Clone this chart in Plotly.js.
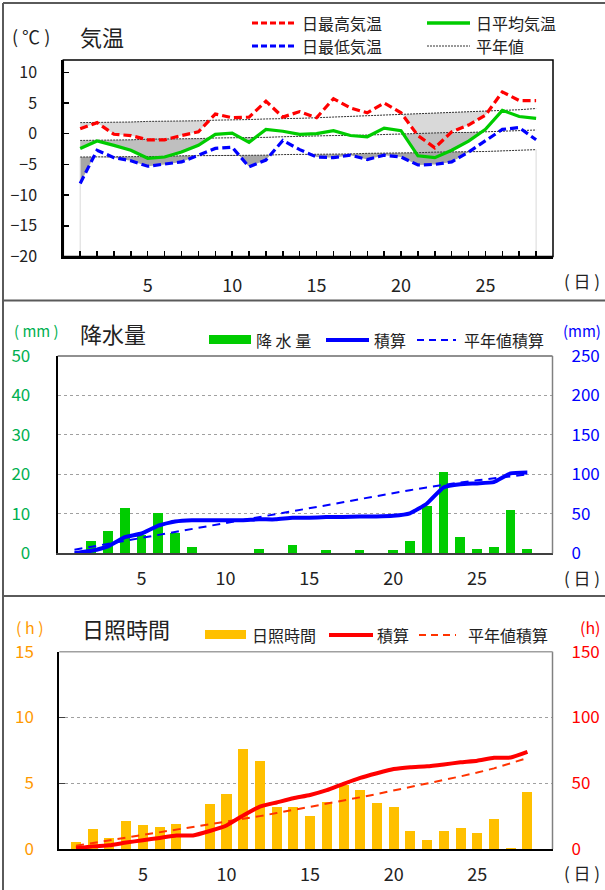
<!DOCTYPE html>
<html><head><meta charset="utf-8">
<script src="https://cdn.plot.ly/plotly-3.0.1.min.js"></script>
<style>html,body{margin:0;padding:0;background:#fff;}#chart{width:605px;height:890px;}</style>
</head><body><div id="chart"></div>
<script>
// ---------- data ----------
const days = [1,2,3,4,5,6,7,8,9,10,11,12,13,14,15,16,17,18,19,20,21,22,23,24,25,26,27,28];
const tMax  = [0.8,1.8,-0.1,-0.3,-1.0,-1.0,-0.3,0.3,3.2,2.6,2.7,5.3,2.7,3.6,2.6,5.7,4.2,3.4,5.0,3.4,-0.3,-2.3,0.3,1.4,3.0,6.8,5.4,5.4];
const tMean = [-2.4,-1.2,-1.9,-2.7,-4.0,-3.8,-3.0,-1.9,-0.1,0.1,-1.4,0.7,0.4,-0.1,0.0,0.5,-0.3,-0.5,0.9,0.5,-3.6,-3.9,-2.7,-1.2,0.7,3.8,2.8,2.5];
const tMin  = [-8.1,-2.7,-3.9,-4.4,-5.3,-5.0,-4.6,-3.5,-2.4,-2.2,-5.4,-4.3,-1.1,-2.6,-3.8,-3.9,-3.5,-4.2,-3.5,-3.8,-5.1,-5.0,-4.6,-3.0,-1.1,0.7,1.0,-1.0];
const nMax  = [1.8,1.8,1.9,1.9,2.0,2.0,2.1,2.1,2.2,2.2,2.3,2.4,2.4,2.5,2.6,2.7,2.8,2.9,3.0,3.2,3.3,3.4,3.5,3.6,3.7,3.8,3.9,4.1];
const nMean = [-1.1,-1.1,-1.0,-1.0,-0.9,-0.9,-0.8,-0.8,-0.7,-0.7,-0.6,-0.6,-0.5,-0.4,-0.4,-0.3,-0.3,-0.2,-0.1,-0.1,0.0,0.1,0.2,0.2,0.3,0.4,0.5,0.6];
const nMin  = [-3.8,-3.8,-3.8,-3.7,-3.7,-3.7,-3.6,-3.6,-3.6,-3.5,-3.5,-3.5,-3.4,-3.4,-3.4,-3.3,-3.3,-3.2,-3.2,-3.1,-3.1,-3.0,-3.0,-2.9,-2.9,-2.8,-2.7,-2.6];

const precip     = [0,3.2,5.7,11.6,4.6,10.1,5.1,1.6,0,0,0,1.1,0,2.1,0,0.8,0,0.8,0,0.8,3.2,12.1,20.6,4.1,1.1,1.5,11.1,1.1];
const precipCum  = [0,3.2,8.9,20.5,25.1,35.2,40.3,41.9,41.9,41.9,41.9,43.0,43.0,45.1,45.1,45.9,45.9,46.7,46.7,47.5,50.7,62.8,83.4,87.5,88.6,90.1,101.2,102.3];
const precipNorm = [4.5,8.2,11.9,15.6,19.3,23.0,26.7,30.4,34.1,37.8,41.5,45.2,48.9,52.6,56.6,60.6,64.6,68.6,72.6,76.5,80.0,83.5,87.0,89.8,92.5,95.2,97.6,100.0];

const sun     = [0.5,1.5,0.8,2.1,1.8,1.7,1.9,0,3.4,4.2,7.6,6.7,3.2,3.2,2.5,3.6,4.9,4.5,3.5,3.2,1.4,0.7,1.4,1.6,1.2,2.3,0.1,4.3];
const sunCum  = [0.5,2.0,2.8,4.9,6.7,8.4,10.3,10.3,13.7,17.9,25.5,32.2,35.4,38.6,41.1,44.7,49.6,54.1,57.6,60.8,62.2,62.9,64.3,65.9,67.1,69.4,69.5,73.8];
const sunNorm = [2.5,4.5,6.5,8.5,10.5,12.5,14.5,16.5,18.5,20.5,22.7,25.0,27.3,29.6,32.0,34.4,36.8,39.3,41.8,44.4,47.0,49.7,52.4,55.2,58.1,61.3,65.2,69.2];

const tempTicks = [-20,-15,-10,-5,0,5,10];
const precipTicksL = [0,10,20,30,40,50];
const precipTicksR = [0,50,100,150,200,250];
const sunTicksL = [0,5,10,15];
const sunTicksR = [0,50,100,150];
const dayLabels = days.map(d => d % 5 === 0 ? String(d) : '');
const dayLabelVals = [5,10,15,20,25];

// ---------- helpers ----------
const W = 605, H = 890;
const px = X => X / W;
const py = Y => 1 - Y / H;
const FONT = '"Noto Sans CJK JP", "Noto Sans", sans-serif';
const TXT = '#222';
const tempRange = [-20, 12];

function shade(act, norm, color) {
  const xs = [], up = [], lo = [];
  for (let i = 0; i < days.length; i++) {
    xs.push(days[i]); up.push(norm[i]); lo.push(Math.min(act[i], norm[i]));
    if (i < days.length - 1) {
      const d0 = act[i] - norm[i], d1 = act[i+1] - norm[i+1];
      if (d0 * d1 < 0) {
        const t = d0 / (d0 - d1);
        const xi = days[i] + t * (days[i+1] - days[i]);
        const yi = norm[i] + t * (norm[i+1] - norm[i]);
        xs.push(xi); up.push(yi); lo.push(yi);
      }
    }
  }
  return [
    {x: xs, y: up, xaxis: 'x', yaxis: 'y', mode: 'lines', line: {width: 0, color: color}, hoverinfo: 'skip'},
    {x: xs, y: lo, xaxis: 'x', yaxis: 'y', mode: 'lines', line: {width: 0, color: color}, fill: 'tonexty', fillcolor: color, hoverinfo: 'skip'}
  ];
}

const traces = [];
traces.push(...shade(tMax, nMax, '#d9d9d9'));
traces.push(...shade(tMean, nMean, '#bfbfbf'));
traces.push(...shade(tMin, nMin, '#a6a6a6'));
// area edge lines at first and last day
traces.push({x: [days[0], days[0], null, days[27], days[27]], y: [tempRange[0], nMin[0], null, tempRange[0], nMin[27]],
  xaxis: 'x', yaxis: 'y', mode: 'lines', line: {color: '#d9d9d9', width: 1}, hoverinfo: 'skip'});
[nMax, nMean, nMin].forEach(n => traces.push({x: days, y: n, xaxis: 'x', yaxis: 'y', mode: 'lines',
  line: {color: '#333', width: 1, dash: '2px,1px'}}));
traces.push({x: days, y: tMean, xaxis: 'x', yaxis: 'y', mode: 'lines', line: {color: '#00cc00', width: 3.2}});
traces.push({x: days, y: tMax, xaxis: 'x', yaxis: 'y', mode: 'lines', line: {color: '#ff0000', width: 3.2, dash: '8px,4px'}});
traces.push({x: days, y: tMin, xaxis: 'x', yaxis: 'y', mode: 'lines', line: {color: '#0000ff', width: 3.2, dash: '8px,4px'}});

// precipitation
traces.push({type: 'bar', x: days, y: precip, xaxis: 'x2', yaxis: 'y2', width: 0.58, marker: {color: '#00cc00'}});
traces.push({x: days, y: precipNorm, xaxis: 'x2', yaxis: 'y3', mode: 'lines', line: {color: '#0000ff', width: 2, dash: '8px,6px'}});
traces.push({x: days, y: precipCum, xaxis: 'x2', yaxis: 'y3', mode: 'lines', line: {color: '#0000ff', width: 4, shape: 'spline', smoothing: 0.4}});

// sunshine
traces.push({type: 'bar', x: days, y: sun, xaxis: 'x3', yaxis: 'y4', width: 0.6, marker: {color: '#ffc000'}});
traces.push({x: days, y: sunNorm, xaxis: 'x3', yaxis: 'y5', mode: 'lines', line: {color: '#ff3300', width: 2, dash: '8px,6px'}});
traces.push({x: days, y: sunCum, xaxis: 'x3', yaxis: 'y5', mode: 'lines', line: {color: '#ff0000', width: 4, shape: 'spline', smoothing: 0.4}});

// ---------- layout ----------
const xBase = {showgrid: false, zeroline: false, showline: true, linecolor: '#000', linewidth: 2,
  tickfont: {family: FONT, size: 18, color: TXT}, fixedrange: true};
const layout = {
  width: W, height: H, margin: {l: 0, r: 0, t: 0, b: 0}, showlegend: false,
  paper_bgcolor: '#fff', plot_bgcolor: 'rgba(0,0,0,0)', bargap: 0,
  font: {family: FONT, color: TXT},
  xaxis: Object.assign({}, xBase, {domain: [px(63.3), px(553)], anchor: 'y', range: [0, 29],
    tickmode: 'array', tickvals: days, ticktext: dayLabels, ticks: 'inside', ticklen: 6, tickwidth: 1.5, tickcolor: '#000',
    ticklabelstandoff: 12}),
  yaxis: {domain: [py(256.5), py(60)], anchor: 'x', range: tempRange, tickmode: 'array', tickvals: tempTicks,
    ticks: 'inside', ticklen: 6, tickwidth: 1.5, tickcolor: '#000', showline: true, linecolor: '#000', linewidth: 2,
    showgrid: false, zeroline: false, tickfont: {family: FONT, size: 16, color: TXT}, ticklabelstandoff: 21},
  xaxis2: Object.assign({}, xBase, {domain: [px(57.7), px(552.5)], anchor: 'y2', range: [0, 29.5],
    tickmode: 'array', tickvals: dayLabelVals, ticks: '', linecolor: '#404040', ticklabelstandoff: 8}),
  yaxis2: {domain: [py(553.3), py(356)], anchor: 'x2', range: [0, 50], tickmode: 'array', tickvals: precipTicksL,
    showline: true, linecolor: '#000', linewidth: 2, zeroline: false, showgrid: true, gridcolor: '#a0a0a0', griddash: 'dot', gridwidth: 1,
    tickfont: {family: FONT, size: 17, color: '#00b050'}, ticklabelstandoff: 22},
  yaxis3: {overlaying: 'y2', anchor: 'x2', side: 'right', range: [0, 250], tickmode: 'array', tickvals: precipTicksR,
    showline: false, showgrid: false, zeroline: false, tickfont: {family: FONT, size: 17, color: '#0000ff'}, ticklabelstandoff: 18},
  xaxis3: Object.assign({}, xBase, {domain: [px(59.3), px(552.5)], anchor: 'y4', range: [0, 29.5],
    tickmode: 'array', tickvals: dayLabelVals, ticks: '', ticklabelstandoff: 8}),
  yaxis4: {domain: [py(849), py(651.7)], anchor: 'x3', range: [0, 15], tickmode: 'array', tickvals: sunTicksL,
    showline: true, linecolor: '#000', linewidth: 2, zeroline: false, showgrid: true, gridcolor: '#a0a0a0', griddash: 'dot', gridwidth: 1,
    ticks: 'inside', ticklen: 6, tickcolor: '#404040',
    tickfont: {family: FONT, size: 17, color: '#ff9900'}, ticklabelstandoff: 20},
  yaxis5: {overlaying: 'y4', anchor: 'x3', side: 'right', range: [0, 150], tickmode: 'array', tickvals: sunTicksR,
    showline: false, showgrid: false, zeroline: false, tickfont: {family: FONT, size: 17, color: '#ff0000'}, ticklabelstandoff: 18},
  shapes: [], annotations: []
};

const S = layout.shapes, A = layout.annotations;
// plot boxes
S.push({type: 'rect', xref: 'x domain', yref: 'y domain', x0: 0, x1: 1, y0: 0, y1: 1, line: {color: '#000', width: 1.5}});
S.push({type: 'line', xref: 'x2 domain', yref: 'y2 domain', x0: 0, x1: 1, y0: 1, y1: 1, line: {color: '#222', width: 1.2}});
S.push({type: 'line', xref: 'x2 domain', yref: 'y2 domain', x0: 1, x1: 1, y0: 0, y1: 1, line: {color: '#808080', width: 1.5}});
S.push({type: 'line', xref: 'x3 domain', yref: 'y4 domain', x0: 1, x1: 1, y0: 0, y1: 1, line: {color: '#808080', width: 1.5}});
S.push({type: 'line', xref: 'x3 domain', yref: 'y4 domain', x0: 0, x1: 1, y0: 1, y1: 1, line: {color: '#a0a0a0', width: 1.5}});
// outer frame and separators
const FR = {color: '#5a5a5a', width: 2};
S.push({type: 'line', xref: 'paper', yref: 'paper', x0: px(3), x1: px(3), y0: py(3), y1: py(890), line: FR});
S.push({type: 'line', xref: 'paper', yref: 'paper', x0: px(3), x1: px(605), y0: py(3), y1: py(3), line: FR});
S.push({type: 'line', xref: 'paper', yref: 'paper', x0: px(3), x1: px(605), y0: py(300.5), y1: py(300.5), line: FR});
S.push({type: 'line', xref: 'paper', yref: 'paper', x0: px(3), x1: px(605), y0: py(596), y1: py(596), line: FR});

function txt(X, Y, t, size, color, anchor) {
  A.push({xref: 'paper', yref: 'paper', x: px(X), y: py(Y), text: t, showarrow: false,
    xanchor: anchor || 'left', yanchor: 'middle', font: {family: FONT, size: size, color: color || TXT}});
}
function lineSw(X0, X1, Y, color, width, dash) {
  S.push({type: 'line', xref: 'paper', yref: 'paper', x0: px(X0), x1: px(X1), y0: py(Y), y1: py(Y),
    line: {color: color, width: width, dash: dash || 'solid'}});
}
function rectSw(X0, X1, Y0, Y1, color) {
  S.push({type: 'rect', xref: 'paper', yref: 'paper', x0: px(X0), x1: px(X1), y0: py(Y1), y1: py(Y0),
    fillcolor: color, line: {width: 0}});
}

// panel 1: temperature
txt(10, 36, '( ℃ )', 18);
txt(78, 36, '気温', 22);
lineSw(252, 297, 23, '#ff0000', 3, '6px,3px'); txt(300, 23, '日最高気温', 16);
lineSw(427, 470, 23, '#00cc00', 3.5);           txt(474, 23, '日平均気温', 16);
lineSw(252, 297, 46, '#0000ff', 3, '6px,3px'); txt(300, 46, '日最低気温', 16);
lineSw(427, 470, 46, '#333', 1, '2px,1px');     txt(474, 46, '平年値', 16);
txt(582, 280, '( 日 )', 17, TXT, 'center');

// panel 2: precipitation
txt(12, 330, '( mm )', 15, '#00b050');
txt(78, 333, '降水量', 22);
rectSw(209, 251, 335, 344, '#00cc00'); txt(254, 340, '降 水 量', 16);
lineSw(326, 369, 340, '#0000ff', 4);   txt(372, 340, '積算', 16);
lineSw(417, 456, 340, '#0000ff', 2, '7px,5px'); txt(462, 340, '平年値積算', 16);
txt(582, 330, '(mm)', 15, '#0000ff', 'center');
txt(582, 577, '( 日 )', 17, TXT, 'center');

// panel 3: sunshine
txt(14, 627, '( h )', 16, '#ff9900');
txt(80, 628, '日照時間', 22);
rectSw(205, 246, 630, 639, '#ffc000'); txt(250, 635, '日照時間', 16);
lineSw(329, 373, 635, '#ff0000', 4);   txt(375, 635, '積算', 16);
lineSw(419, 456, 635, '#ff3300', 2, '7px,5px'); txt(466, 635, '平年値積算', 16);
txt(590, 627, '(h)', 16, '#ff0000', 'center');
txt(582, 872, '( 日 )', 17, TXT, 'center');

Plotly.newPlot('chart', traces, layout, {displayModeBar: false, staticPlot: true});
</script>
</body></html>
